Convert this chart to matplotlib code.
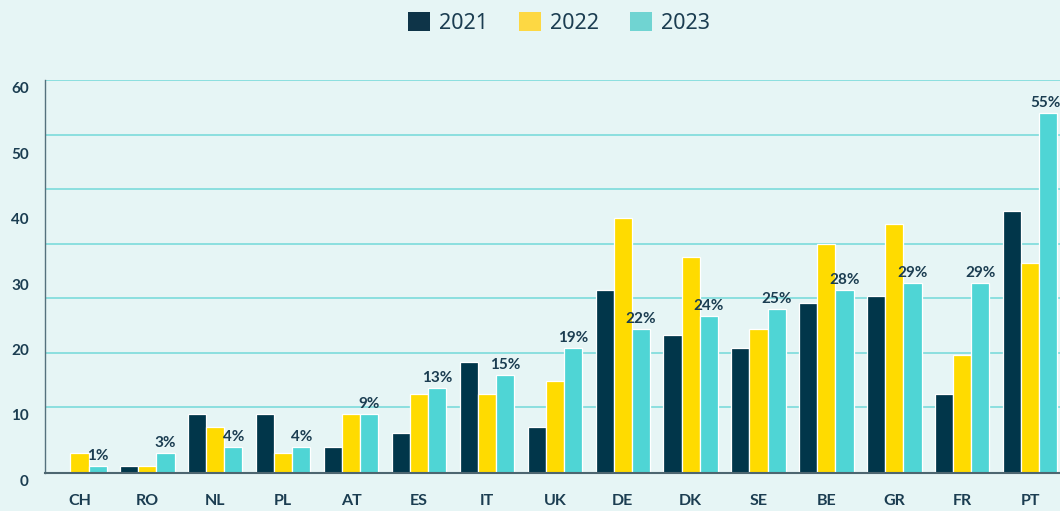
import numpy as np
import matplotlib
matplotlib.use('Agg')
import matplotlib.pyplot as plt
from matplotlib.patches import Patch

plt.rcParams['font.family'] = ['Noto Sans', 'DejaVu Sans']
boldFam = ['Lato', 'Open Sans', 'DejaVu Sans']

countries = ['CH', 'RO', 'NL', 'PL', 'AT', 'ES', 'IT', 'UK', 'DE', 'DK', 'SE', 'BE', 'GR', 'FR', 'PT']
v2021 = [0, 1, 9, 9, 4, 6, 17, 7, 28, 21, 19, 26, 27, 12, 40]
v2022 = [3, 1, 7, 3, 9, 12, 12, 14, 39, 33, 22, 35, 38, 18, 32]
v2023 = [1, 3, 4, 4, 9, 13, 15, 19, 22, 24, 25, 28, 29, 29, 55]
years = ['2021', '2022', '2023']
yticks = [0, 10, 20, 30, 40, 50, 60]

bg = '#e6f5f5'
txt = '#1b3d51'
barCols = ['#01364a', '#ffdb00', '#4fd5d5']
legCols = ['#0e3448', '#fdd843', '#70d4d2']

fig = plt.figure(figsize=(10.6, 5.11), dpi=100, facecolor=bg)
ax = fig.add_axes([45/1060, 38.3/511, 1 - 45/1060, (472.7 - 80.4)/511])
ax.set_facecolor(bg)

x = np.arange(len(countries))
step = 0.267
for i, vals in enumerate([v2021, v2022, v2023]):
    ax.bar(x + (i - 1)*step, vals, width=step, color=barCols[i],
           edgecolor='white', linewidth=0.9, zorder=3)

# percentage labels on 2023 bars (last one nudged so it stays inside the figure)
for xi, v in zip(x, v2023):
    dx = -3 if xi == x[-1] else 0
    ax.annotate(f'{v}%', xy=(xi + step, v), xytext=(dx, 6), textcoords='offset pixels',
                ha='center', va='baseline', fontsize=11, fontweight='bold',
                family=boldFam, color=txt, zorder=4)

# grid lines (as drawn in the source)
for g in np.linspace(10, 60, 7):
    ax.axhline(g, color='#72d9d9', linewidth=1.1, zorder=1)

ax.set_xlim(-0.508, 14.44)
ax.set_ylim(0, 60)
ax.set_xticks(x)
ax.set_xticklabels(countries, fontsize=11.5, fontweight='bold', family=boldFam, color=txt)
ax.tick_params(axis='x', length=0, pad=15)
ax.set_yticks([])

# y labels sit a bit below their values
for v in yticks:
    ax.annotate(str(v), xy=(0, v), xycoords=('axes fraction', 'data'),
                xytext=(-16, -9), textcoords='offset pixels',
                ha='right', va='center', fontsize=11, fontweight='bold',
                family=boldFam, color=txt)

for s in ['top', 'right']:
    ax.spines[s].set_visible(False)
ax.spines['left'].set_color('#55717d')
ax.spines['left'].set_linewidth(1.0)
ax.spines['bottom'].set_color('#4d6670')
ax.spines['bottom'].set_linewidth(1.5)
ax.spines['bottom'].set_zorder(5)

handles = [Patch(facecolor=c, edgecolor='none') for c in legCols]
fig.legend(handles, years, loc='center', bbox_to_anchor=(559/1060, 1 - 23/511), ncol=3,
           frameon=False, fontsize=15.5, labelcolor=txt, handlelength=1.0, handleheight=1.0,
           handletextpad=0.43, columnspacing=1.45)

fig.savefig('out.png', dpi=100, facecolor=bg)
